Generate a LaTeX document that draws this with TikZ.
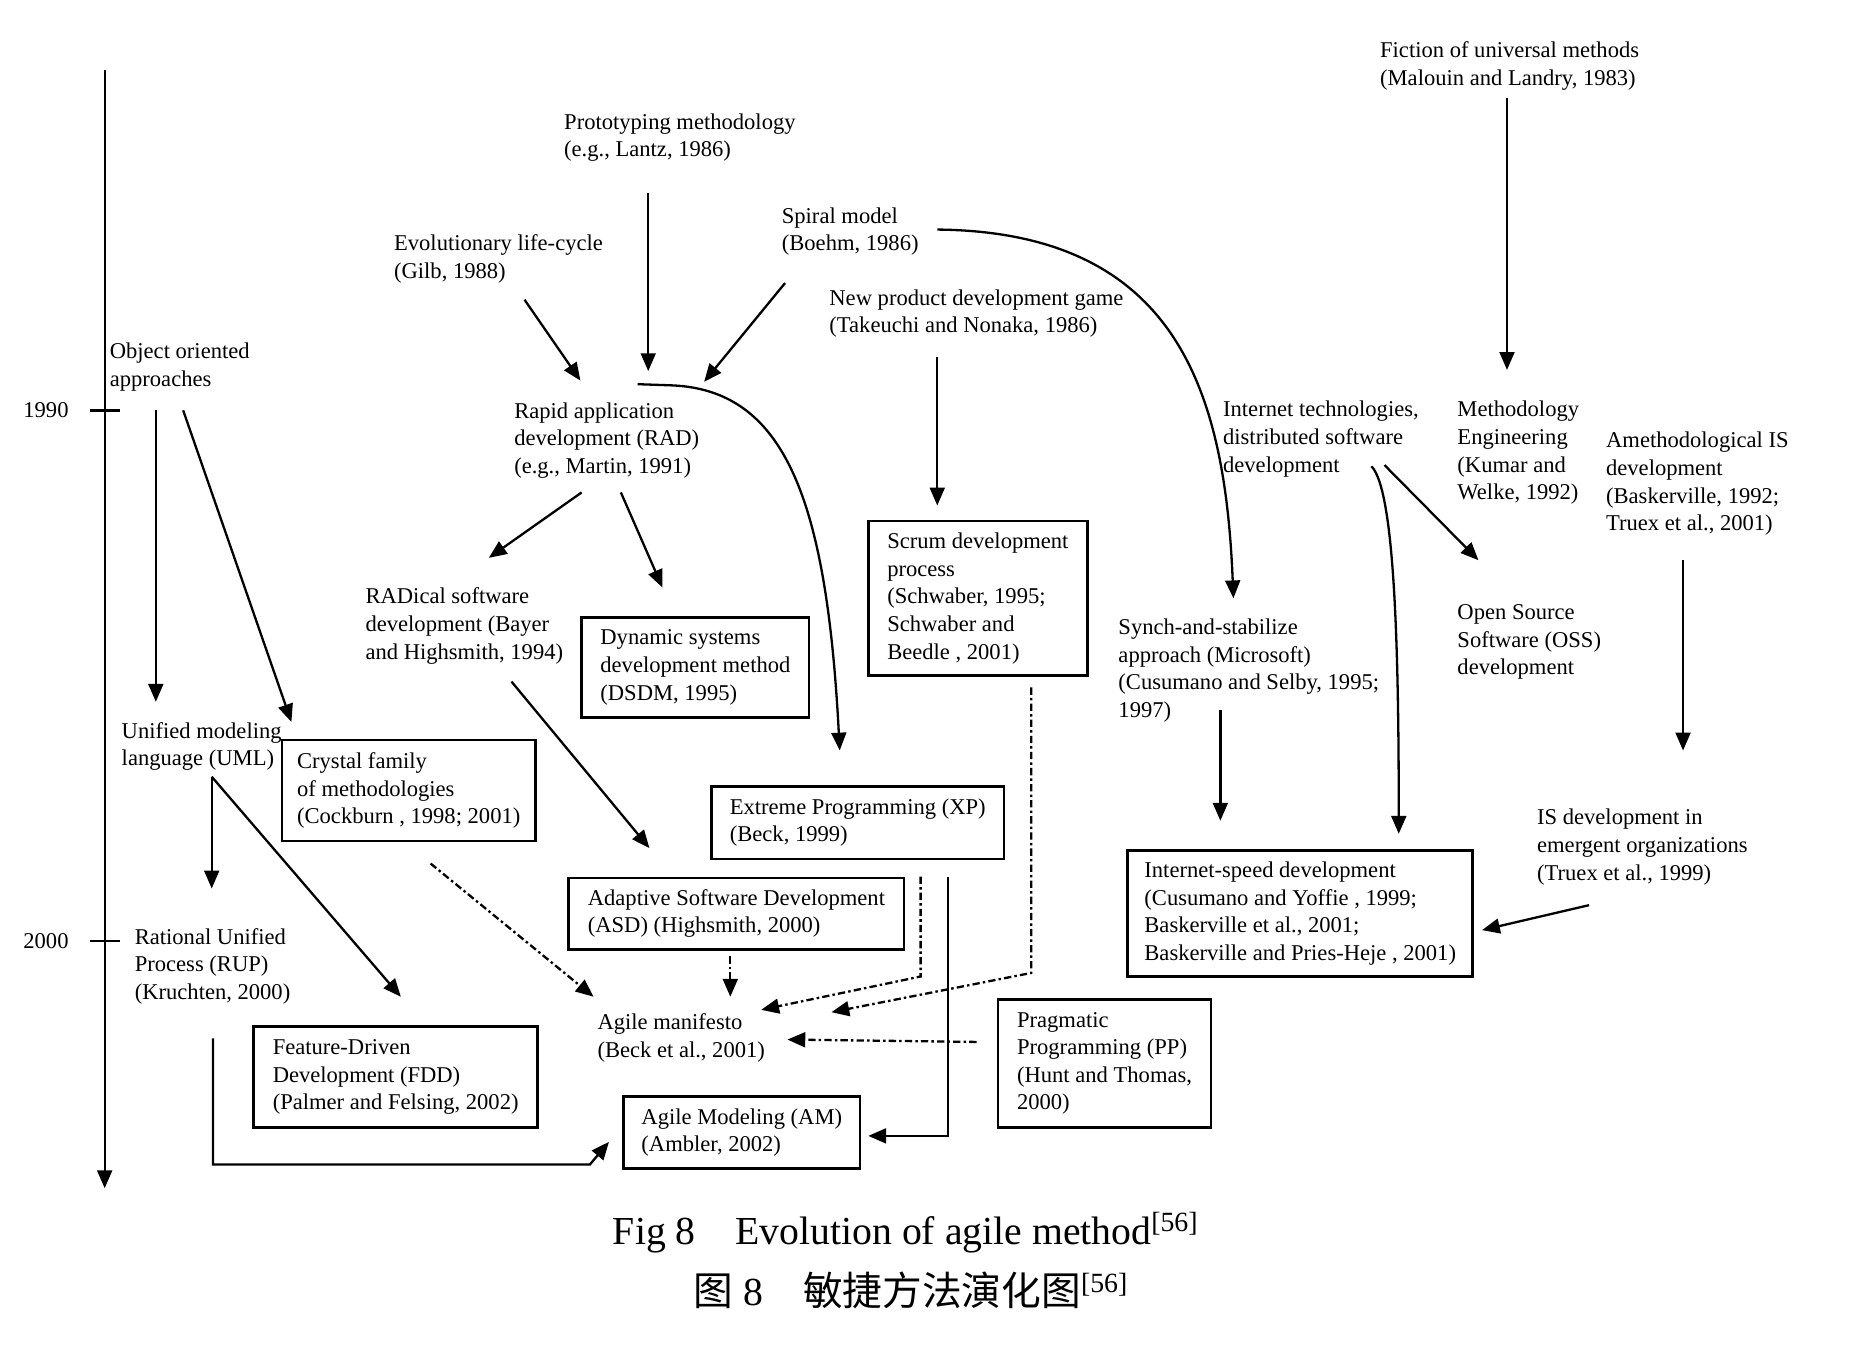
\documentclass[tikz,border=0pt]{standalone}
\usepackage{fontspec}
\setmainfont{Liberation Serif}
\newfontfamily\cjk{Noto Sans CJK SC}
\usetikzlibrary{arrows.meta,calc}

\begin{document}
\begin{tikzpicture}[x=0.2mm,y=-0.2mm,
		font=\fontsize{10.8}{13.2}\selectfont,
		lbl/.style={anchor=north west,inner sep=0pt,align=left},
		box/.style={draw,line width=1.3pt,anchor=north west,align=left,inner sep=2pt},
		arr/.style={line width=1.1pt,-{Triangle[length=3mm,width=2.5mm]}},
		darr/.style={arr,dash pattern=on 3.5pt off 1.5pt on 1.2pt off 1.5pt},
		capt/.style={anchor=base west,inner sep=0pt,font=\fontsize{19}{23}\selectfont}]
		\useasboundingbox (0,0) rectangle (1568,1133);
		
		% time axis
		\coordinate (axtop) at (88,59);
		\coordinate (axbot) at (88,999);
		\draw[arr] (axtop) -- (axbot);
		\foreach \y/\yr in {345/1990,791/2000}{
			\draw[line width=1.1pt] (76,\y) -- (101,\y);
			\node[anchor=east,inner sep=0pt] (yr\yr) at (58,\y) {\yr};
		}
		
		% sources
		\node[lbl] (fiction) at (1160,35) {Fiction of universal methods\\(Malouin and Landry, 1983)};
		\node[lbl] (proto) at (474,95) {Prototyping methodology\\(e.g., Lantz, 1986)};
		\node[lbl] (spiral) at (657,174) {Spiral model\\(Boehm, 1986)};
		\node[lbl] (evol) at (331,197) {Evolutionary life-cycle\\(Gilb, 1988)};
		\node[lbl] (newprod) at (697,243) {New product development game\\(Takeuchi and Nonaka, 1986)};
		\node[lbl] (obj) at (92,288) {Object oriented\\approaches};
		\node[lbl] (rad) at (432,338) {Rapid application\\development (RAD)\\(e.g., Martin, 1991)};
		\node[lbl] (inet) at (1028,337) {Internet technologies,\\distributed software\\development};
		\node[lbl] (meth) at (1225,337) {Methodology\\Engineering\\(Kumar and\\Welke, 1992)};
		\node[lbl] (ameth) at (1350,363) {Amethodological IS\\development\\(Baskerville, 1992;\\Truex et al., 2001)};
		\node[lbl] (radical) at (307,494) {RADical software\\development (Bayer\\and Highsmith, 1994)};
		\node[lbl] (oss) at (1225,508) {Open Source\\Software (OSS)\\development};
		\node[lbl] (synch) at (940,520) {Synch-and-stabilize\\approach (Microsoft)\\(Cusumano and Selby, 1995;\\1997)};
		\node[lbl] (uml) at (102,607) {Unified modeling\\language (UML)};
		\node[lbl] (isdev) at (1292,680) {IS development in\\emergent organizations\\(Truex et al., 1999)};
		\node[lbl] (rup) at (113,780) {Rational Unified\\Process (RUP)\\(Kruchten, 2000)};
		\node[lbl] (agile) at (502,852) {Agile manifesto\\(Beck et al., 2001)};
		
		% methods in boxes
		\node[box,minimum width=36.8mm,minimum height=26mm] (scrum) at (729,437) {Scrum development\\process\\(Schwaber, 1995;\\Schwaber and\\Beedle , 2001)};
		\node[box,minimum width=38.2mm,minimum height=16.8mm] (dsdm) at (488,518) {Dynamic systems\\development method\\(DSDM, 1995)};
		\node[box,minimum width=42.6mm,minimum height=17mm] (crystal) at (236,621) {Crystal family\\of methodologies\\(Cockburn , 1998; 2001)};
		\node[box,minimum width=49.2mm,minimum height=12.2mm] (xp) at (597,660) {Extreme Programming (XP)\\(Beck, 1999)};
		\node[box,minimum width=58mm,minimum height=21.2mm] (inetspeed) at (947,714) {Internet-speed development\\(Cusumano and Yoffie , 1999;\\Baskerville et al., 2001;\\Baskerville and Pries-Heje , 2001)};
		\node[box,minimum width=56.4mm,minimum height=12mm] (asd) at (477,737) {Adaptive Software Development\\(ASD) (Highsmith, 2000)};
		\node[box,minimum width=35.8mm,minimum height=21.6mm] (pp) at (838,839) {Pragmatic\\Programming (PP)\\(Hunt and Thomas,\\2000)};
		\node[box,minimum width=47.8mm,minimum height=17mm] (fdd) at (212,862) {Feature-Driven\\Development (FDD)\\(Palmer and Felsing, 2002)};
		\node[box,minimum width=39.8mm,minimum height=12mm] (am) at (523,921) {Agile Modeling (AM)\\(Ambler, 2002)};
		
		% solid links
		\draw[arr] ($(proto.north west)+(71,67)$) -- ($(rad.north west)+(113,-26)$);
		\draw[arr] ($(evol.north west)+(110,55)$) -- ($(rad.north west)+(56,-18)$);
		\draw[arr] ($(spiral.north west)+(3,64)$) -- ($(rad.north west)+(160,-17)$);
		\draw[arr] ($(spiral.north west)+(131,19)$) .. controls +(202,2) and +(-7,-173) .. ($(synch.north west)+(97,-17)$);
		\draw[arr] ($(rad.north west)+(104,-15)$) -- +(29,1) .. controls +(95,4) and +(-11,-211) .. ($(xp.north west)+(109,-29)$);
		\draw[arr] ($(rad.north west)+(57,76)$) -- ($(radical.north west)+(104,-25)$);
		\draw[arr] ($(rad.north west)+(90,76)$) -- ($(dsdm.north west)+(69,-24)$);
		\draw[arr] ($(newprod.north west)+(91,57)$) -- ($(scrum.north west)+(59,-12)$);
		\draw[arr] ($(fiction.north west)+(107,47)$) -- ($(meth.north west)+(42,-26)$);
		\draw[arr] ($(obj.north west)+(39,57)$) -- ($(uml.north west)+(29,-17)$);
		\draw[arr] ($(obj.north west)+(62,57)$) -- ($(crystal.north west)+(9,-14)$);
		\draw[arr] ($(inet.north west)+(125,55)$) .. controls +(20,20) and +(0,-150) .. ($(inetspeed.north west)+(229,-13)$);
		\draw[arr] ($(inet.north west)+(136,54)$) -- ($(oss.north west)+(18,-37)$);
		\draw[arr] ($(ameth.north west)+(65,108)$) -- ($(isdev.north west)+(123,-49)$);
		\draw[arr] ($(synch.north west)+(86,77)$) -- ($(inetspeed.north west)+(79,-24)$);
		\draw[arr] ($(isdev.north west)+(44,81)$) -- ($(inetspeed.north west)+(299,68)$);
		\draw[arr] ($(uml.north west)+(76,46)$) -- ($(rup.north west)+(65,-33)$);
		\draw[arr] ($(uml.north west)+(76,46)$) -- ($(fdd.north west)+(125,-24)$);
		\draw[arr] ($(radical.north west)+(123,79)$) -- ($(asd.north west)+(69,-24)$);
		\draw[arr] ($(xp.north west)+(200,77)$) |- ($(am.north west)+(207,34)$);
		\draw[arr] ($(rup.north west)+(66,93)$) -- ++(0,106) -- ++(317,0) -- ($(am.north west)+(-11,39)$);
		
		% dashed links to the manifesto
		\draw[darr] ($(crystal.north west)+(126,105)$) -- ($(agile.north west)+(-3,-14)$);
		\draw[darr] ($(asd.north west)+(137,67)$) -- ($(agile.north west)+(112,-14)$);
		\draw[darr] ($(xp.north west)+(177,77)$) -- ++(0,84) -- ($(agile.north west)+(138,-3)$);
		\draw[darr] ($(scrum.north west)+(138,141)$) -- ++(0,240) -- ($(agile.north west)+(197,-1)$);
		\draw[darr] ($(pp.north west)+(-17,37)$) -- ($(agile.north west)+(160,22)$);
		
		% caption
		\node[capt] (capen) at (515,1046) {Fig 8\quad Evolution of agile method\textsuperscript{[56]}};
		\node[capt] (capzh) at (583,1098) {{\cjk 图} 8\quad{\cjk 敏捷方法演化图}\textsuperscript{[56]}};
\end{tikzpicture}
\end{document}
